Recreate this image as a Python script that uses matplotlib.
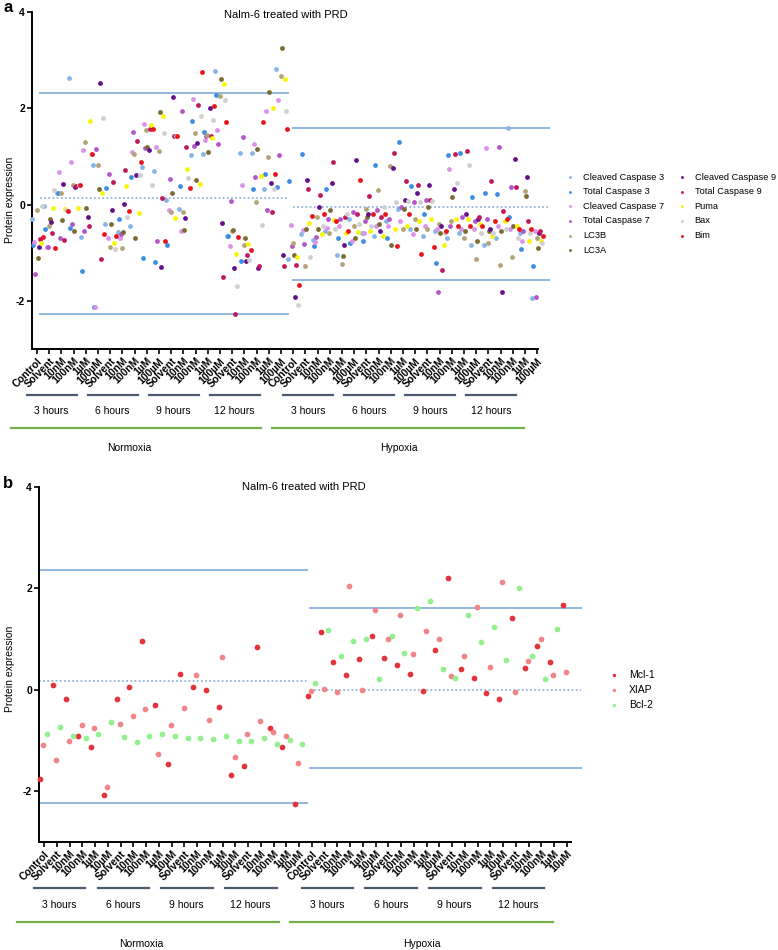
import numpy as np
import matplotlib
matplotlib.use("Agg")
import matplotlib.pyplot as plt
from matplotlib.transforms import blended_transform_factory

plt.rcParams['font.family'] = ['Liberation Sans', 'DejaVu Sans']

# ------------------------------------------------------------
# DATA
# ------------------------------------------------------------
doses_a = ["Solvent", "10nM", "100nM", "1\u00b5M", "100\u00b5M"]
doses_b = ["Solvent", "10nM", "100nM", "1\u00b5M", "10\u00b5M"]
labels_a = (["Control"] + doses_a * 4) * 2
labels_b = (["Control"] + doses_b * 4) * 2
timepoints = ["3 hours", "6 hours", "9 hours", "12 hours"]
oxygen = ["Normoxia", "Hypoxia"]

# panel a, one value per condition (42)
cleaved_casp3 = [-0.29, -0.02, 0.25, 2.62, -0.68, 0.82, -0.40, -0.57, -0.45, 0.78, 0.70, 0.10, -0.10, 1.02, 1.06, 2.78, -0.65, 1.08, 1.08, 0.33, 2.82,
                 -1.13, -0.62, -0.73, -0.55, -1.04, -0.30, -0.60, -0.65, -0.35, -0.10, -0.50, -0.65, -0.55, -0.70, -0.60, -0.85, -0.85, -0.70, 1.60, -0.60, -1.94]
total_casp3 = [-0.85, -0.50, 0.24, -0.48, -1.37, -2.12, 0.35, -0.30, 0.57, -1.12, -1.20, -0.85, 0.38, 1.73, 1.50, 2.28, -0.65, -1.18, 0.33, 0.63, 0.37,
               0.48, 1.05, -0.87, 0.33, -0.70, -0.80, -0.75, 0.83, -0.70, 1.31, 0.38, -0.20, -1.22, 1.02, 1.07, 0.15, 0.24, 0.22, -0.25, -0.92, -1.27]
cleaved_casp7 = [-0.78, -0.88, 0.68, 0.88, 1.13, -2.13, -0.70, -0.70, 1.10, 1.67, 1.20, -0.12, -0.55, 2.20, 1.35, 1.55, -0.87, 0.40, 1.25, 1.95, 2.17,
                 -0.42, -0.52, -0.78, -0.49, -0.45, -0.75, -0.60, -0.45, -0.45, -0.35, -0.62, -0.45, -0.50, 0.73, -0.50, -0.50, 1.17, -0.45, -0.50, -0.75, -0.55]
total_casp7 = [-1.45, -0.88, -0.70, -0.40, -0.55, 1.15, 0.63, -0.62, 1.50, 1.17, -0.75, 0.54, 1.95, 1.22, 1.43, 1.25, 0.08, 1.40, 0.58, -0.12, 1.03,
               -0.87, -0.82, -0.67, -0.31, -0.30, -0.15, -0.35, -0.12, -0.30, -0.05, 0.05, 0.10, -1.81, -0.45, -0.25, -0.35, -0.30, 1.20, 0.36, -0.55, -1.91]
lc3b = [-0.12, -0.45, 0.23, 0.40, 1.30, 0.82, -0.88, -0.90, 1.05, 1.55, 1.12, -0.15, -0.15, 1.48, 1.45, 2.25, -0.55, -0.85, 0.05, 0.98, 2.68,
        -0.80, -1.27, -0.25, -0.60, -1.24, -0.45, -0.10, 0.30, 0.81, -0.50, -0.30, -0.50, -0.40, -0.35, -0.70, -1.13, -0.80, -1.25, -1.08, 0.29, -0.70]
lc3a = [-1.10, -0.30, -0.33, -0.55, -0.08, 0.32, -0.40, -0.56, -0.69, 1.20, 1.93, 0.23, -0.52, 0.52, 1.10, 2.60, -0.52, -0.70, 1.15, 2.33, 3.25,
        -1.05, -0.51, -0.50, -0.12, -1.06, -0.70, -0.25, -0.40, -0.85, -0.10, -0.50, -0.05, -0.60, 0.15, -0.55, -0.75, -0.55, -0.55, -0.45, 0.17, -0.90]
cleaved_casp9 = [-0.89, -0.36, 0.43, 0.37, -0.26, 2.53, -0.12, 0.02, 0.62, 1.14, -1.30, 2.23, -0.27, 1.27, 2.00, -0.38, -1.32, -1.18, -1.32, 0.45, -1.05,
                 -1.93, 0.51, -0.06, 0.44, -0.85, 0.92, -0.20, -0.55, 0.76, 0.10, 0.23, 0.41, -0.45, 0.33, -0.20, -0.30, -0.50, -1.82, 0.95, 0.58, -0.60]
total_casp9 = [-0.72, -0.60, -0.74, 0.38, -0.45, -1.14, 0.47, 0.71, 1.33, 1.57, 0.13, 1.43, 1.20, 2.07, 1.42, -1.50, -2.27, -1.05, -1.27, -0.15, -1.27,
               -1.25, 0.33, 0.20, 0.89, -0.25, -0.20, 0.17, -0.25, 1.08, 0.48, 0.41, 0.10, -1.35, 1.05, 1.12, -0.25, 0.49, -0.14, 0.36, -0.35, -0.55]
puma = [-0.80, -0.08, -0.10, -0.07, 1.74, 0.24, -0.80, 0.38, -0.18, 1.65, 1.85, -0.28, 0.73, 0.43, 1.38, 2.50, -1.03, -0.82, 0.60, 2.00, 2.60,
        -1.08, -0.38, -0.62, -0.33, -0.60, -0.58, -0.55, -0.65, -0.50, -0.45, -0.35, -0.30, -0.85, -0.30, -0.30, -0.40, -0.65, -0.35, -0.45, -0.75, -0.75]
bax = [-0.02, 0.30, -0.12, 0.40, 1.05, 1.80, -0.92, -0.26, 0.62, 0.40, 1.48, 1.42, 0.55, 1.85, 1.75, 2.17, -1.70, -1.15, -0.42, 0.32, 1.95,
       -2.08, -1.08, -0.45, -0.50, -0.20, -0.40, -0.45, -0.05, 0.05, 0.08, 0.05, 0.08, -0.60, 0.44, 0.83, -0.60, -0.60, -0.50, -0.70, -0.60, -0.80]
bim = [-0.68, -0.90, -0.13, 0.40, 1.05, -0.62, -0.65, -0.13, 0.88, 1.57, -0.75, 1.42, 0.35, 2.75, 2.05, 1.72, -0.68, -0.95, 1.72, 0.63, 1.57,
       -1.68, -0.23, -0.20, -0.34, -0.55, 0.50, -0.20, -0.20, -0.86, -0.20, -1.03, -0.88, -0.55, -0.45, -0.45, -0.45, -0.35, -0.30, -0.50, -0.50, -0.65]

names_a = ["Cleaved Caspase 3", "Total Caspase 3", "Cleaved Caspase 7", "Total Caspase 7", "LC3B", "LC3A",
           "Cleaved Caspase 9", "Total Caspase 9", "Puma", "Bax", "Bim"]
series_a = [cleaved_casp3, total_casp3, cleaved_casp7, total_casp7, lc3b, lc3a,
            cleaved_casp9, total_casp9, puma, bax, bim]
colors_a = ["#86b6e6", "#3c8ee0", "#dc92ea", "#b455c8", "#b3a478", "#7c6a32",
            "#65118c", "#c0185c", "#f8f40a", "#cfcfcf", "#e8141c"]

# panel b
mcl1 = [-1.75, 0.09, -0.18, -0.90, -1.13, -2.07, -0.19, 0.05, 0.97, -0.30, -1.47, 0.31, 0.05, 0.00, -0.34, -1.68, -1.50, 0.84, -0.75, -1.13, -2.25,
        -0.13, 1.14, 0.54, 0.29, 0.60, 1.07, 0.63, 0.50, 0.32, -0.03, 0.79, 2.20, 0.41, 0.23, -0.06, -0.18, 1.41, 0.44, 0.86, 0.55, 1.68]
xiap = [-1.09, -1.39, -1.01, -0.69, -0.75, -1.92, -0.68, -0.51, -0.38, -1.26, -0.69, -0.36, 0.29, -0.60, 0.65, -1.33, -0.88, -0.61, -0.84, -0.90, -1.44,
        -0.02, 0.02, -0.05, 2.05, 0.00, 1.58, 1.01, 1.48, 0.71, 1.16, 1.00, 0.28, 0.67, 1.64, 0.46, 2.13, -0.05, 0.57, 1.00, 0.29, 0.36]
bcl2 = [-0.88, -0.74, -0.90, -0.94, -0.87, -0.63, -0.92, -1.02, -0.90, -0.88, -0.91, -0.94, -0.94, -0.96, -0.91, -1.01, -1.01, -0.94, -1.06, -0.98, -1.06,
        0.13, 1.19, 0.66, 0.96, 1.01, 0.22, 1.06, 0.73, 1.62, 1.76, 0.41, 0.24, 1.48, 0.94, 1.24, 0.59, 2.01, 0.67, 0.22, 1.20, np.nan]
names_b = ["Mcl-1", "XIAP", "Bcl-2"]
series_b = [mcl1, xiap, bcl2]
colors_b = ["#e2343a", "#f0858a", "#94f08e"]

# mean / +-2SD reference lines per segment (upper, mean, lower)
ref_a = {"Normoxia": (2.32, 0.13, -2.27), "Hypoxia": (1.60, -0.05, -1.57)}
ref_b = {"Normoxia": (2.36, 0.165, -2.24), "Hypoxia": (1.62, 0.0, -1.54)}

W, H = 778, 950
fig = plt.figure(figsize=(W / 100, H / 100), dpi=100)
LINE_BLUE = "#92b6dd"


def fy(p):
    return 1 - p / H


def make_panel(rect, labels, series, names, colors, offsets, ref, ref_span, size,
               ypix, letter, letter_y, title_xy, ylab_y):
    ax = fig.add_axes(rect)
    x = np.arange(len(labels))
    for vals, name, col, off in zip(series, names, colors, offsets):
        ax.scatter(x + off, vals, s=size, color=col, linewidths=0, label=name,
                   clip_on=False, zorder=3)
    # reference lines
    for seg, (x0, x1) in zip(oxygen, ref_span):
        up, mid, lo = ref[seg]
        ax.plot([x0, x1], [up, up], color=LINE_BLUE, lw=1.4, clip_on=False, zorder=2)
        ax.plot([x0, x1], [lo, lo], color=LINE_BLUE, lw=1.4, clip_on=False, zorder=2)
        ax.plot([x0, x1], [mid, mid], color=LINE_BLUE, lw=1.3, ls=(0, (1, 1.3)), clip_on=False, zorder=2)
    ax.set_ylim(-3, 4)
    ax.set_yticks([-2, 0, 2, 4])
    ax.set_yticklabels(["-2", "0", "2", "4"], fontweight="bold", fontsize=7.5)
    ax.set_xticks(x)
    ax.set_xticklabels(labels, rotation=45, ha="right", rotation_mode="anchor",
                       fontweight="bold", fontsize=7.5)
    for s in ["top", "right"]:
        ax.spines[s].set_visible(False)
    for s in ["left", "bottom"]:
        ax.spines[s].set_linewidth(1.4)
    ax.tick_params(axis="both", length=3.5, width=1.2, pad=1.5)
    ax.set_ylabel("Protein expression", fontsize=7.5)
    ax.yaxis.set_label_coords(15 / W, fy(ylab_y), transform=fig.transFigure)

    # group annotations below axis
    tr = blended_transform_factory(ax.transData, fig.transFigure)
    bar_y, hours_y, green_y, oxy_y = ypix
    for k, seg in enumerate(oxygen):
        base = 21 * k
        for g, t in enumerate(timepoints):
            s0 = base + 5 * g - 0.8
            ax.plot([s0, s0 + 4.05], [fy(bar_y)] * 2, color="#4d5b70", lw=1.6,
                    transform=tr, clip_on=False)
            ax.text(s0 + 2.0, fy(hours_y), t, transform=tr, ha="center", va="center",
                    fontsize=7.5)
        g0, g1 = (-2.15, 18.4) if k == 0 else (19.3, 39.95)
        ax.plot([g0, g1], [fy(green_y)] * 2, color="#74b04a", lw=1.6, transform=tr,
                clip_on=False)
        ax.text([7.6, 29.65][k], fy(oxy_y), seg, transform=tr, ha="center",
                va="center", fontsize=7.5)
    fig.text(3 / W, fy(letter_y), letter, fontsize=12, fontweight="bold", va="center")
    fig.text(title_xy[0] / W, fy(title_xy[1]), "Nalm-6 treated with PRD", fontsize=8,
             ha="center", va="center")
    return ax


# panel a
tick0_a, step_a = 37.0, 12.2
left_a = 32.0
xlo_a = (left_a - tick0_a) / step_a
xhi_a = (538 - tick0_a) / step_a
rect_a = [left_a / W, fy(349), (538 - left_a) / W, (349 - 12) / H]
offs_a = [-0.4 + 0.09 * k for k in range(11)]
ax_a = make_panel(rect_a, labels_a, series_a, names_a, colors_a, offs_a, ref_a,
                  [(0.25, 20.6), (20.96, 41.97)], 12,
                  (395, 411, 428, 448), "a", 7, (286, 15), 200)
ax_a.set_xlim(xlo_a, xhi_a)
ax_a.legend(loc="upper left", bbox_to_anchor=(561 / W, fy(169)),
            bbox_transform=fig.transFigure, ncol=2, frameon=False, fontsize=6.7,
            markerscale=0.6, handletextpad=0.75, labelspacing=0.6,
            columnspacing=1.35, handlelength=1.2, borderaxespad=0)

# panel b
tick0_b, step_b = 44.0, 12.75
left_b = 39.0
xlo_b = (left_b - tick0_b) / step_b
xhi_b = (571 - tick0_b) / step_b
rect_b = [left_b / W, fy(842), (571 - left_b) / W, (842 - 487) / H]
offs_b = [-0.3, -0.05, 0.26]
ax_b = make_panel(rect_b, labels_b, series_b, names_b, colors_b, offs_b, ref_b,
                  [(-0.4, 20.6), (20.9, 42.1)], 17,
                  (888, 905, 922, 944), "b", 484, (304, 487), 669)
ax_b.set_xlim(xlo_b, xhi_b)
ax_b.legend(loc="upper left", bbox_to_anchor=(604 / W, fy(666)),
            bbox_transform=fig.transFigure, ncol=1, frameon=False, fontsize=7.5,
            markerscale=0.6, handletextpad=0.8, labelspacing=0.45,
            handlelength=1.2, borderaxespad=0)

fig.savefig("out.png", dpi=100)
